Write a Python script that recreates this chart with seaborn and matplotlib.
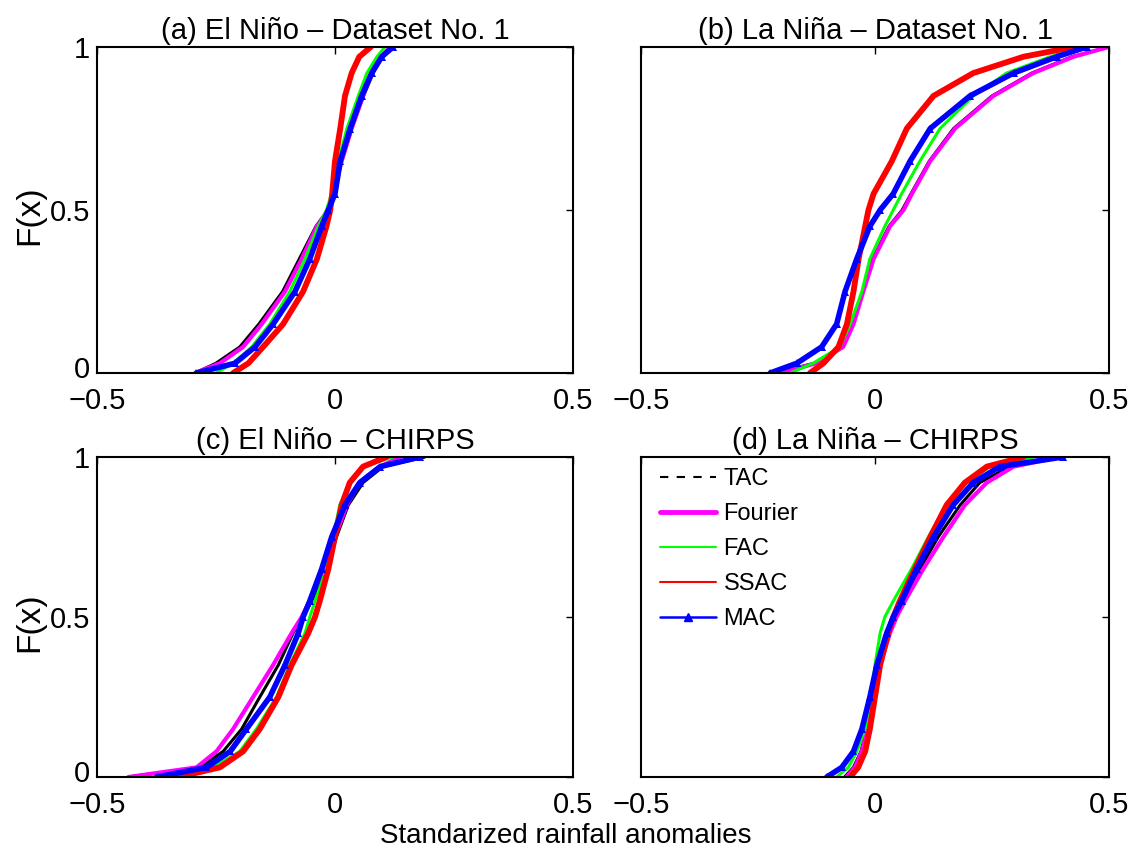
import matplotlib
matplotlib.use("Agg")
import matplotlib.pyplot as plt
import matplotlib.transforms as mtransforms
import seaborn as sns
import pandas as pd
from matplotlib.lines import Line2D

# ---------------- data ----------------
F_LEVELS = [0, 0.03, 0.08, 0.15, 0.25, 0.35, 0.45, 0.5, 0.55, 0.65, 0.75, 0.85, 0.92, 0.97, 1.0]
METHODS = ["TAC", "Fourier", "FAC", "SSAC", "MAC"]
PANEL_TITLES = ["(a) El Niño – Dataset No. 1", "(b) La Niña – Dataset No. 1",
                "(c) El Niño – CHIRPS", "(d) La Niña – CHIRPS"]
X_TICKS = [-0.5, 0, 0.5]
X_TICK_LABELS = ["\u22120.5", "0", "0.5"]
Y_TICKS = [0, 0.5, 1]
Y_TICK_LABELS = ["0", "0.5", "1"]
X_LABEL = "Standarized rainfall anomalies"
Y_LABEL = "F(x)"

# (a) El Niño - Dataset No. 1
A_TAC = [-0.294, -0.250, -0.200, -0.160, -0.110, -0.075, -0.040, -0.015, -0.004, 0.014, 0.035, 0.060, 0.080, 0.100, 0.122]
A_FOURIER = [-0.294, -0.242, -0.193, -0.154, -0.105, -0.070, -0.038, -0.014, -0.004, 0.014, 0.035, 0.059, 0.077, 0.098, 0.116]
A_FAC = [-0.250, -0.214, -0.175, -0.137, -0.095, -0.063, -0.035, -0.018, -0.007, 0.007, 0.025, 0.049, 0.067, 0.088, 0.105]
A_SSAC = [-0.214, -0.182, -0.151, -0.109, -0.067, -0.038, -0.018, -0.010, -0.006, 0.000, 0.011, 0.021, 0.035, 0.051, 0.075]
A_MAC = [-0.291, -0.210, -0.168, -0.130, -0.084, -0.053, -0.028, -0.014, 0.000, 0.011, 0.032, 0.056, 0.077, 0.098, 0.122]

# (b) La Niña - Dataset No. 1
B_TAC = [-0.212, -0.130, -0.070, -0.048, -0.027, -0.005, 0.030, 0.058, 0.077, 0.116, 0.168, 0.250, 0.335, 0.420, 0.500]
B_FOURIER = [-0.203, -0.125, -0.068, -0.046, -0.025, -0.003, 0.032, 0.061, 0.079, 0.118, 0.171, 0.253, 0.338, 0.424, 0.499]
B_FAC = [-0.181, -0.132, -0.075, -0.053, -0.028, -0.011, 0.021, 0.039, 0.057, 0.096, 0.139, 0.210, 0.281, 0.374, 0.445]
B_SSAC = [-0.139, -0.110, -0.078, -0.060, -0.046, -0.035, -0.021, -0.014, -0.003, 0.036, 0.068, 0.125, 0.210, 0.317, 0.424]
B_MAC = [-0.224, -0.167, -0.114, -0.082, -0.064, -0.039, -0.011, 0.011, 0.039, 0.075, 0.118, 0.203, 0.296, 0.388, 0.452]

# (c) El Niño - CHIRPS
C_TAC = [-0.434, -0.284, -0.235, -0.196, -0.158, -0.119, -0.088, -0.067, -0.049, -0.018, 0.003, 0.028, 0.059, 0.101, 0.189]
C_FOURIER = [-0.434, -0.291, -0.249, -0.214, -0.172, -0.130, -0.091, -0.070, -0.053, -0.025, 0.000, 0.025, 0.052, 0.095, 0.137]
C_FAC = [-0.354, -0.256, -0.200, -0.165, -0.123, -0.095, -0.063, -0.053, -0.042, -0.018, -0.004, 0.010, 0.031, 0.059, 0.122]
C_SSAC = [-0.329, -0.242, -0.193, -0.158, -0.119, -0.091, -0.056, -0.042, -0.032, -0.014, 0.000, 0.014, 0.031, 0.059, 0.108]
C_MAC = [-0.375, -0.270, -0.220, -0.186, -0.137, -0.105, -0.077, -0.067, -0.053, -0.028, -0.007, 0.021, 0.052, 0.095, 0.179]

# (d) La Niña - CHIRPS
D_TAC = [-0.065, -0.046, -0.030, -0.018, -0.006, 0.009, 0.030, 0.044, 0.057, 0.096, 0.135, 0.182, 0.224, 0.288, 0.381]
D_FOURIER = [-0.061, -0.043, -0.028, -0.016, -0.004, 0.011, 0.032, 0.046, 0.064, 0.103, 0.146, 0.192, 0.239, 0.296, 0.395]
D_FAC = [-0.082, -0.057, -0.039, -0.021, -0.009, 0.000, 0.011, 0.021, 0.039, 0.078, 0.114, 0.153, 0.196, 0.246, 0.338]
D_SSAC = [-0.053, -0.036, -0.021, -0.011, 0.000, 0.011, 0.028, 0.039, 0.053, 0.085, 0.118, 0.153, 0.192, 0.239, 0.317]
D_MAC = [-0.103, -0.071, -0.046, -0.028, -0.011, 0.004, 0.025, 0.039, 0.057, 0.089, 0.125, 0.167, 0.210, 0.267, 0.402]

PANELS = [
    [A_TAC, A_FOURIER, A_FAC, A_SSAC, A_MAC],
    [B_TAC, B_FOURIER, B_FAC, B_SSAC, B_MAC],
    [C_TAC, C_FOURIER, C_FAC, C_SSAC, C_MAC],
    [D_TAC, D_FOURIER, D_FAC, D_SSAC, D_MAC],
]

# ---------------- styling ----------------
COLORS = {"TAC": "#000000", "Fourier": "#FF00FF", "FAC": "#00FF00", "SSAC": "#FF0000", "MAC": "#0000FF"}
PLOT_LW = {"TAC": 2.2, "Fourier": 3.0, "FAC": 2.2, "SSAC": 4.2, "MAC": 4.0}

sns.set_theme(style="white")
plt.rcParams["font.family"] = ["Liberation Sans", "DejaVu Sans"]
plt.rcParams["axes.unicode_minus"] = True
plt.rcParams["text.color"] = "black"
plt.rcParams["axes.labelcolor"] = "black"
plt.rcParams["xtick.color"] = "black"
plt.rcParams["ytick.color"] = "black"

fig = plt.figure(figsize=(11.33, 8.57), dpi=100)
W, H = 1133.0, 857.0
boxes = [
    (97, 47, 573, 373),
    (641, 47, 1109, 373),
    (97, 457, 573, 777),
    (641, 457, 1109, 777),
]

axes = []
for i, (x0, y0, x1, y1) in enumerate(boxes):
    ax = fig.add_axes([x0 / W, 1 - y1 / H, (x1 - x0) / W, (y1 - y0) / H])
    axes.append(ax)
    for m, xs in zip(METHODS, PANELS[i]):
        df = pd.DataFrame({"x": xs, "F": F_LEVELS})
        kw = {}
        if m == "MAC":
            kw = dict(marker="^", markersize=6, markeredgewidth=0)
        sns.lineplot(data=df, x="x", y="F", ax=ax, color=COLORS[m], lw=PLOT_LW[m],
                     sort=False, estimator=None, **kw)
    ax.set_xlim(-0.5, 0.5)
    ax.set_ylim(0, 1)
    ax.set_xticks(X_TICKS)
    ax.set_xticklabels(X_TICK_LABELS)
    ax.set_yticks(Y_TICKS)
    if i in (0, 2):
        ax.set_yticklabels(Y_TICK_LABELS)
    else:
        ax.set_yticklabels([])
    ax.set_xlabel("")
    ax.set_ylabel("")
    ax.tick_params(direction="in", top=True, right=True, length=5, width=1.0,
                   labelsize=21, colors="black", pad=10)
    ax.tick_params(axis="y", pad=5)
    if i in (0, 2):
        lab0 = ax.get_yticklabels()[0]
        lab0.set_transform(lab0.get_transform() +
                           mtransforms.ScaledTranslation(0, 4 / 72, fig.dpi_scale_trans))
    for s in ax.spines.values():
        s.set_color("black")
        s.set_linewidth(1.5)
    ax.set_title(PANEL_TITLES[i], fontsize=21, pad=6, color="black")

# legend in panel (d)
handles = [
    Line2D([], [], color="black", lw=1.5, ls=(0, (4, 4))),
    Line2D([], [], color="#FF00FF", lw=3.5),
    Line2D([], [], color="#00FF00", lw=1.5),
    Line2D([], [], color="#FF0000", lw=1.5),
    Line2D([], [], color="#0000FF", lw=1.8, marker="^", markersize=6),
]
axes[3].legend(handles, METHODS, loc="upper left", bbox_to_anchor=(0.04, 0.965),
               frameon=False, fontsize=17, handlelength=2.4, handletextpad=0.3,
               labelspacing=0.55, borderpad=0, borderaxespad=0, numpoints=1,
               labelcolor="black")

fig.text(566 / W, 1 - 836 / H, X_LABEL, ha="center", va="center", fontsize=20, color="black")
fig.text(30 / W, 1 - 215 / H, Y_LABEL, ha="center", va="center", rotation=90, fontsize=24, color="black")
fig.text(30 / W, 1 - 622 / H, Y_LABEL, ha="center", va="center", rotation=90, fontsize=24, color="black")

fig.savefig("out.png", dpi=100)
